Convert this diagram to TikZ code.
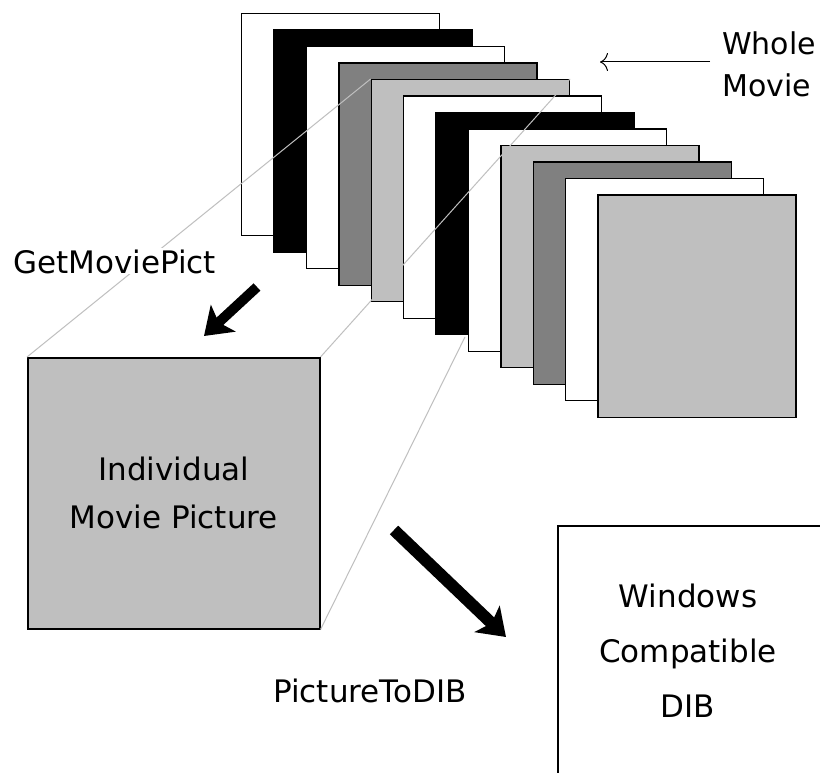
\documentclass[tikz,border=0pt]{standalone}
\usepackage{fontspec}
\setmainfont{DejaVu Sans}
\usetikzlibrary{arrows.meta, positioning}

\begin{document}
\begin{tikzpicture}[
    x=1pt, y=-1pt, % pixel coordinates, y downwards
    frame/.style={
        rectangle,
        draw,
        line width=1.4pt,
        minimum width=198pt,
        minimum height=222pt,
        anchor=north west,
        inner sep=0pt
    },
    picbox/.style={
        rectangle,
        draw,
        line width=1.5pt,
        fill=black!25,
        minimum width=292pt,
        minimum height=271pt,
        anchor=north west,
        align=center,
        font=\fontsize{31}{48}\selectfont
    },
    txt/.style={font=\fontsize{31}{36}\selectfont, inner sep=1pt},
    proj/.style={draw=black!25, line width=1pt},
    bigarrow/.style={line width=10pt, -{Stealth[length=26pt, width=36pt, inset=6pt]}},
    thinarrow/.style={line width=1pt, -{To[length=8pt, width=18pt]}}
]

    \useasboundingbox (0,0) rectangle (820,773);
    \fill[white] (0,0) rectangle (820,773);
    \clip (0,0) rectangle (820,773);

    % the whole movie as a stack of frames
    \foreach \c [count=\i from 0] in {white,black,white,black!50,black!25,white,black,white,black!25,black!50,white,black!25} {
        \node[frame, fill=\c] (f\i) at ({241+32.4*\i},{13+16.5*\i}) {};
    }

    \node[picbox] (pict) at (27,357) {Individual\\Movie Picture};

    % projection lines from the picture to frame 5
    \coordinate (cut) at (465,337);
    \draw[proj] (pict.north west) -- (f4.north west);
    \draw[proj] (pict.north east) -- (f4.north east);
    \draw[proj] (pict.south east) -- (cut);

    % DIB box, cut off by the border
    \node[rectangle, draw, line width=1.5pt, minimum width=320pt, minimum height=300pt, anchor=north west] (dib) at (557,525) {};
    \node[txt, align=center, font=\fontsize{31}{55}\selectfont] (dibtext) at (688,651) {Windows\\Compatible\\DIB};

    \node[txt, fill=white, anchor=base west] (getpict) at (12,273) {GetMoviePict};
    \node[txt, anchor=base west] (todib) at (272,702) {PictureToDIB};
    \node[txt, align=left, anchor=west, inner sep=0pt, font=\fontsize{30}{42}\selectfont] (whole) at (722,64) {Whole\\Movie};

    % arrows
    \coordinate (ga) at (257,287);
    \coordinate (gb) at (204,336);
    \coordinate (da) at (394,530);
    \coordinate (db) at (506,637);
    \coordinate (wm) at (600,62);
    \draw[bigarrow] (ga) -- (gb);
    \draw[bigarrow, line width=12pt] (da) -- (db);
    \draw[thinarrow] (whole.west |- wm) ++(-12,0) -- (wm);

\end{tikzpicture}
\end{document}
